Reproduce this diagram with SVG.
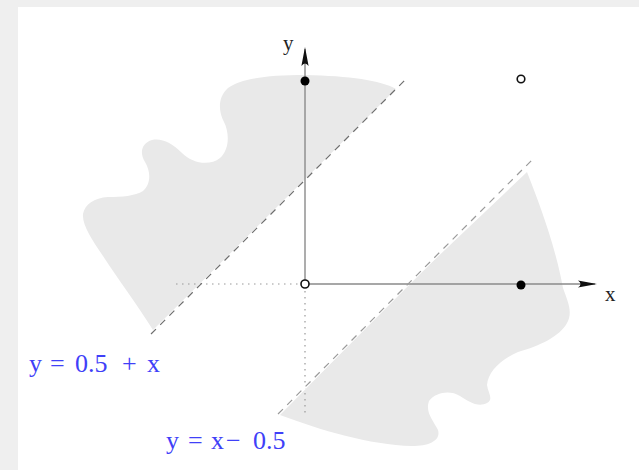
<svg xmlns="http://www.w3.org/2000/svg" width="639" height="470" viewBox="0 0 639 470">
<style>
.region{fill:#e9e9e9;stroke:none}
.axis{stroke:#8a8a8a;stroke-width:1.4;fill:none}
.dot{stroke:#999;stroke-width:1.2;stroke-dasharray:1.5 4.5;fill:none}
.dash{stroke:#6e6e6e;stroke-width:1.2;stroke-dasharray:7 6;fill:none}
.dash2{stroke:#9a9a9a;stroke-width:1.2;stroke-dasharray:7 6;fill:none}
.gap{stroke:#fff;stroke-width:3;fill:none}
.pt{fill:#000}
.opt{fill:#fff;stroke:#111;stroke-width:1.6}
.ax{font-family:"Liberation Serif","Times New Roman",serif;font-size:21px;fill:#222}
.eq{font-family:"Liberation Serif","Times New Roman",serif;font-size:26px;fill:#4040f8}
</style>
<defs>
<marker id="arr" viewBox="-22 -5 24 10" refX="-2" refY="0" markerWidth="24" markerHeight="10" markerUnits="userSpaceOnUse" orient="auto">
<path d="M0,0 L-19,-3.6 Q-14,0 -19,3.6 Z" fill="#111"/>
</marker>
</defs>
<rect x="0" y="0" width="639" height="470" fill="#efefef"/>
<rect x="18" y="7" width="621" height="463" fill="#fff"/>
<g id="region-upper">
<path class="region" d="M396,89 C380,80 350,76 305,75 C265,75 240,79 228,88 C218,97 218,110 224,122 C230,134 229,150 220,158 C210,166 193,164 182,153 C172,143 162,138 152,140 C142,143 139,152 145,162 C151,172 151,184 143,191 C135,196 122,197 108,197 C94,198 85,204 83,214 C82,225 92,240 103,256 C118,279 136,303 153,330 Z"/>
</g>
<g id="region-lower">
<path class="region" d="M527,172 C540,205 555,245 563,288 C568,302 573,312 567,323 C560,336 540,346 518,352 C500,360 488,372 487,385 C488,393 494,399 487,403 C478,408 468,401 460,396 C450,390 436,392 429,401 C425,412 433,420 438,430 C441,440 430,446 412,446 C370,445 320,430 280,415 L408,285 Z"/>
</g>
<g id="connectors">
<line class="dot" x1="176" y1="284" x2="300" y2="284"/>
<line class="dot" x1="305" y1="291" x2="305" y2="414"/>
<line class="gap" x1="278" y1="414" x2="535" y2="157"/>
<line class="axis" x1="305" y1="284" x2="305" y2="49" marker-end="url(#arr)"/>
<line class="axis" x1="309" y1="284" x2="595" y2="284" marker-end="url(#arr)"/>
<line class="dash" x1="151" y1="334" x2="408" y2="77"/>
<line class="dash2" x1="278" y1="414" x2="535" y2="157"/>
</g>
<g id="origin"><circle class="opt" cx="305" cy="284" r="4"/></g>
<g id="point-y1"><circle class="pt" cx="305" cy="81" r="4.5"/></g>
<g id="point-x1"><circle class="pt" cx="521" cy="285" r="4.5"/></g>
<g id="point-11"><circle class="opt" cx="521" cy="79" r="3.8"/></g>
<g id="label-y"><text class="ax" x="283" y="50">y</text></g>
<g id="label-x"><text class="ax" x="605" y="301">x</text></g>
<g id="label-line1"><text class="eq" y="372"><tspan x="29">y</tspan><tspan x="50">=</tspan><tspan x="75">0.5</tspan><tspan x="122">+</tspan><tspan x="147">x</tspan></text></g>
<g id="label-line2"><text class="eq" y="449"><tspan x="166">y</tspan><tspan x="188">=</tspan><tspan x="211">x</tspan><tspan x="226">−</tspan><tspan x="253">0.5</tspan></text></g>
</svg>
